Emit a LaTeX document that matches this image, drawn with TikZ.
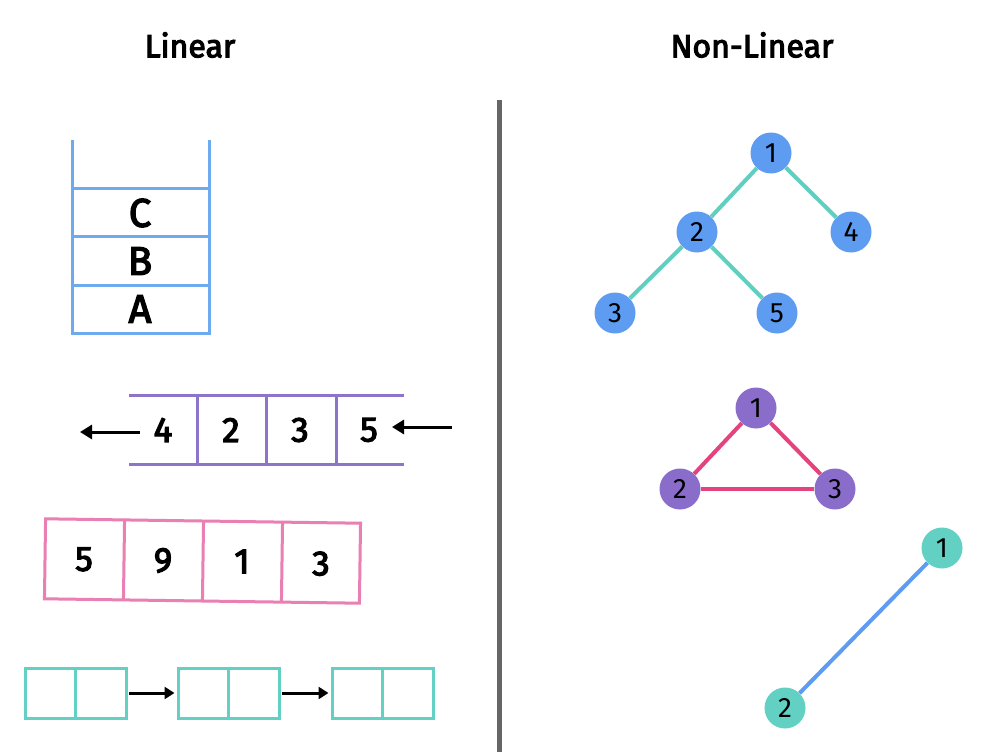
\documentclass[tikz,border=0pt]{standalone}
\usepackage{fontspec}
\setmainfont{Fira Sans}
\newfontfamily\medfont[FakeBold=3.5]{Fira Sans}
\newfontfamily\semifont[FakeBold=3.5]{Fira Sans}
\usetikzlibrary{arrows.meta,calc}
\definecolor{stackblue}{HTML}{6DAAEE}
\definecolor{queuepurple}{HTML}{8B74C9}
\definecolor{arraypink}{HTML}{E97FB2}
\definecolor{listteal}{HTML}{63D0C4}
\definecolor{treenode}{HTML}{5E9CF2}
\definecolor{treeedge}{HTML}{5FCFC0}
\definecolor{trinode}{HTML}{8A6DCB}
\definecolor{triedge}{HTML}{E4437D}
\definecolor{divgray}{HTML}{666666}
\tikzset{
  title/.style={font=\fontsize{32}{38}\semifont},
  bigtext/.style={font=\fontsize{40}{46}\medfont},
  celltext/.style={font=\fontsize{35}{40}\medfont},
  vtx/.style={circle,minimum size=41pt,inner sep=0pt,font=\fontsize{28}{32}\selectfont},
  blackarrow/.style={line width=3pt,-{Triangle[length=12pt,width=14pt]}},
  listbox/.style={draw,minimum width=101pt,minimum height=50pt,inner sep=0pt},
}
\begin{document}
\begin{tikzpicture}[x=1pt,y=-1pt]
\useasboundingbox (0,0) rectangle (986,752);
\fill[white] (0,0) rectangle (986,752);
% titles
\node[title] (tlin) at (190,45) {Linear};
\node[title] (tnon) at (752,45) {Non-Linear};
% divider
\draw[divgray,line width=5pt] (499,100) -- (499,752);
% stack
\begin{scope}[stackblue,line width=3pt]
\draw (72,140) -- (72,333) -- (209,333) -- (209,140);
\draw (72,188) -- (209,188);
\draw (72,236) -- (209,236);
\draw (72,285) -- (209,285);
\end{scope}
\node[bigtext] (sc) at (140,213) {C};
\node[bigtext] (sb) at (140,261) {B};
\node[bigtext] (sa) at (140,309) {A};
% queue
\begin{scope}[queuepurple,line width=3pt]
\draw (129,395) -- (404,395);
\draw (129,464) -- (404,464);
\draw (197,395) -- (197,464);
\draw (266,395) -- (266,464);
\draw (336,395) -- (336,464);
\end{scope}
\node[celltext] (q4) at (163,430) {4};
\node[celltext] (q2) at (231,430) {2};
\node[celltext] (q3) at (300,430) {3};
\node[celltext] (q5) at (369,430) {5};
\coordinate (qoutend) at (80,432);
\coordinate (qoutstart) at (140,432);
\coordinate (qinstart) at (452,427);
\coordinate (qinend) at (392,427);
\draw[blackarrow] (qoutstart) -- (qoutend);
\draw[blackarrow] (qinstart) -- (qinend);
% array
\begin{scope}[rotate around={-0.8:(202,561)}]
\begin{scope}[arraypink,line width=3pt]
\draw (45,521) rectangle (360,601);
\draw (124,521) -- (124,601);
\draw (203,521) -- (203,601);
\draw (282,521) -- (282,601);
\end{scope}
\node[celltext] (a5) at (84,561) {5};
\node[celltext] (a9) at (163,561) {9};
\node[celltext] (a1) at (242,561) {1};
\node[celltext] (a3) at (321,562) {3};
\end{scope}
% linked list
\begin{scope}[listteal,line width=3pt]
\node[listbox] (l1) at (75.5,693) {};
\node[listbox] (l2) at (228.5,693) {};
\node[listbox] (l3) at (382.5,693) {};
\draw (l1.north) -- (l1.south);
\draw (l2.north) -- (l2.south);
\draw (l3.north) -- (l3.south);
\end{scope}
\draw[line width=3pt,-{Triangle[length=10pt,width=12pt]}] ([xshift=1.5pt]l1.east) -- ([xshift=-2pt]l2.west);
\draw[line width=3pt,-{Triangle[length=10pt,width=12pt]}] ([xshift=1.5pt]l2.east) -- ([xshift=-2pt]l3.west);
% tree
\node[vtx,fill=treenode] (t1) at (771,153) {1};
\node[vtx,fill=treenode] (t2) at (697,232) {2};
\node[vtx,fill=treenode] (t4) at (851,232) {4};
\node[vtx,fill=treenode] (t3) at (615,313) {3};
\node[vtx,fill=treenode] (t5) at (777,313) {5};
\draw[treeedge,line width=4pt] (t1) -- (t2);
\draw[treeedge,line width=4pt] (t1) -- (t4);
\draw[treeedge,line width=4pt] (t2) -- (t3);
\draw[treeedge,line width=4pt] (t2) -- (t5);
% triangle
\node[vtx,fill=trinode] (g1) at (756,408) {1};
\node[vtx,fill=trinode] (g2) at (680,489) {2};
\node[vtx,fill=trinode] (g3) at (835,489) {3};
\draw[triedge,line width=4pt] (g1) -- (g2);
\draw[triedge,line width=4pt] (g1) -- (g3);
\draw[triedge,line width=4pt] (g2) -- (g3);
% pair
\node[vtx,fill=listteal] (p1) at (942,548) {1};
\node[vtx,fill=listteal] (p2) at (785,708) {2};
\draw[treenode,line width=4pt] (p1) -- (p2);
\end{tikzpicture}
\end{document}
